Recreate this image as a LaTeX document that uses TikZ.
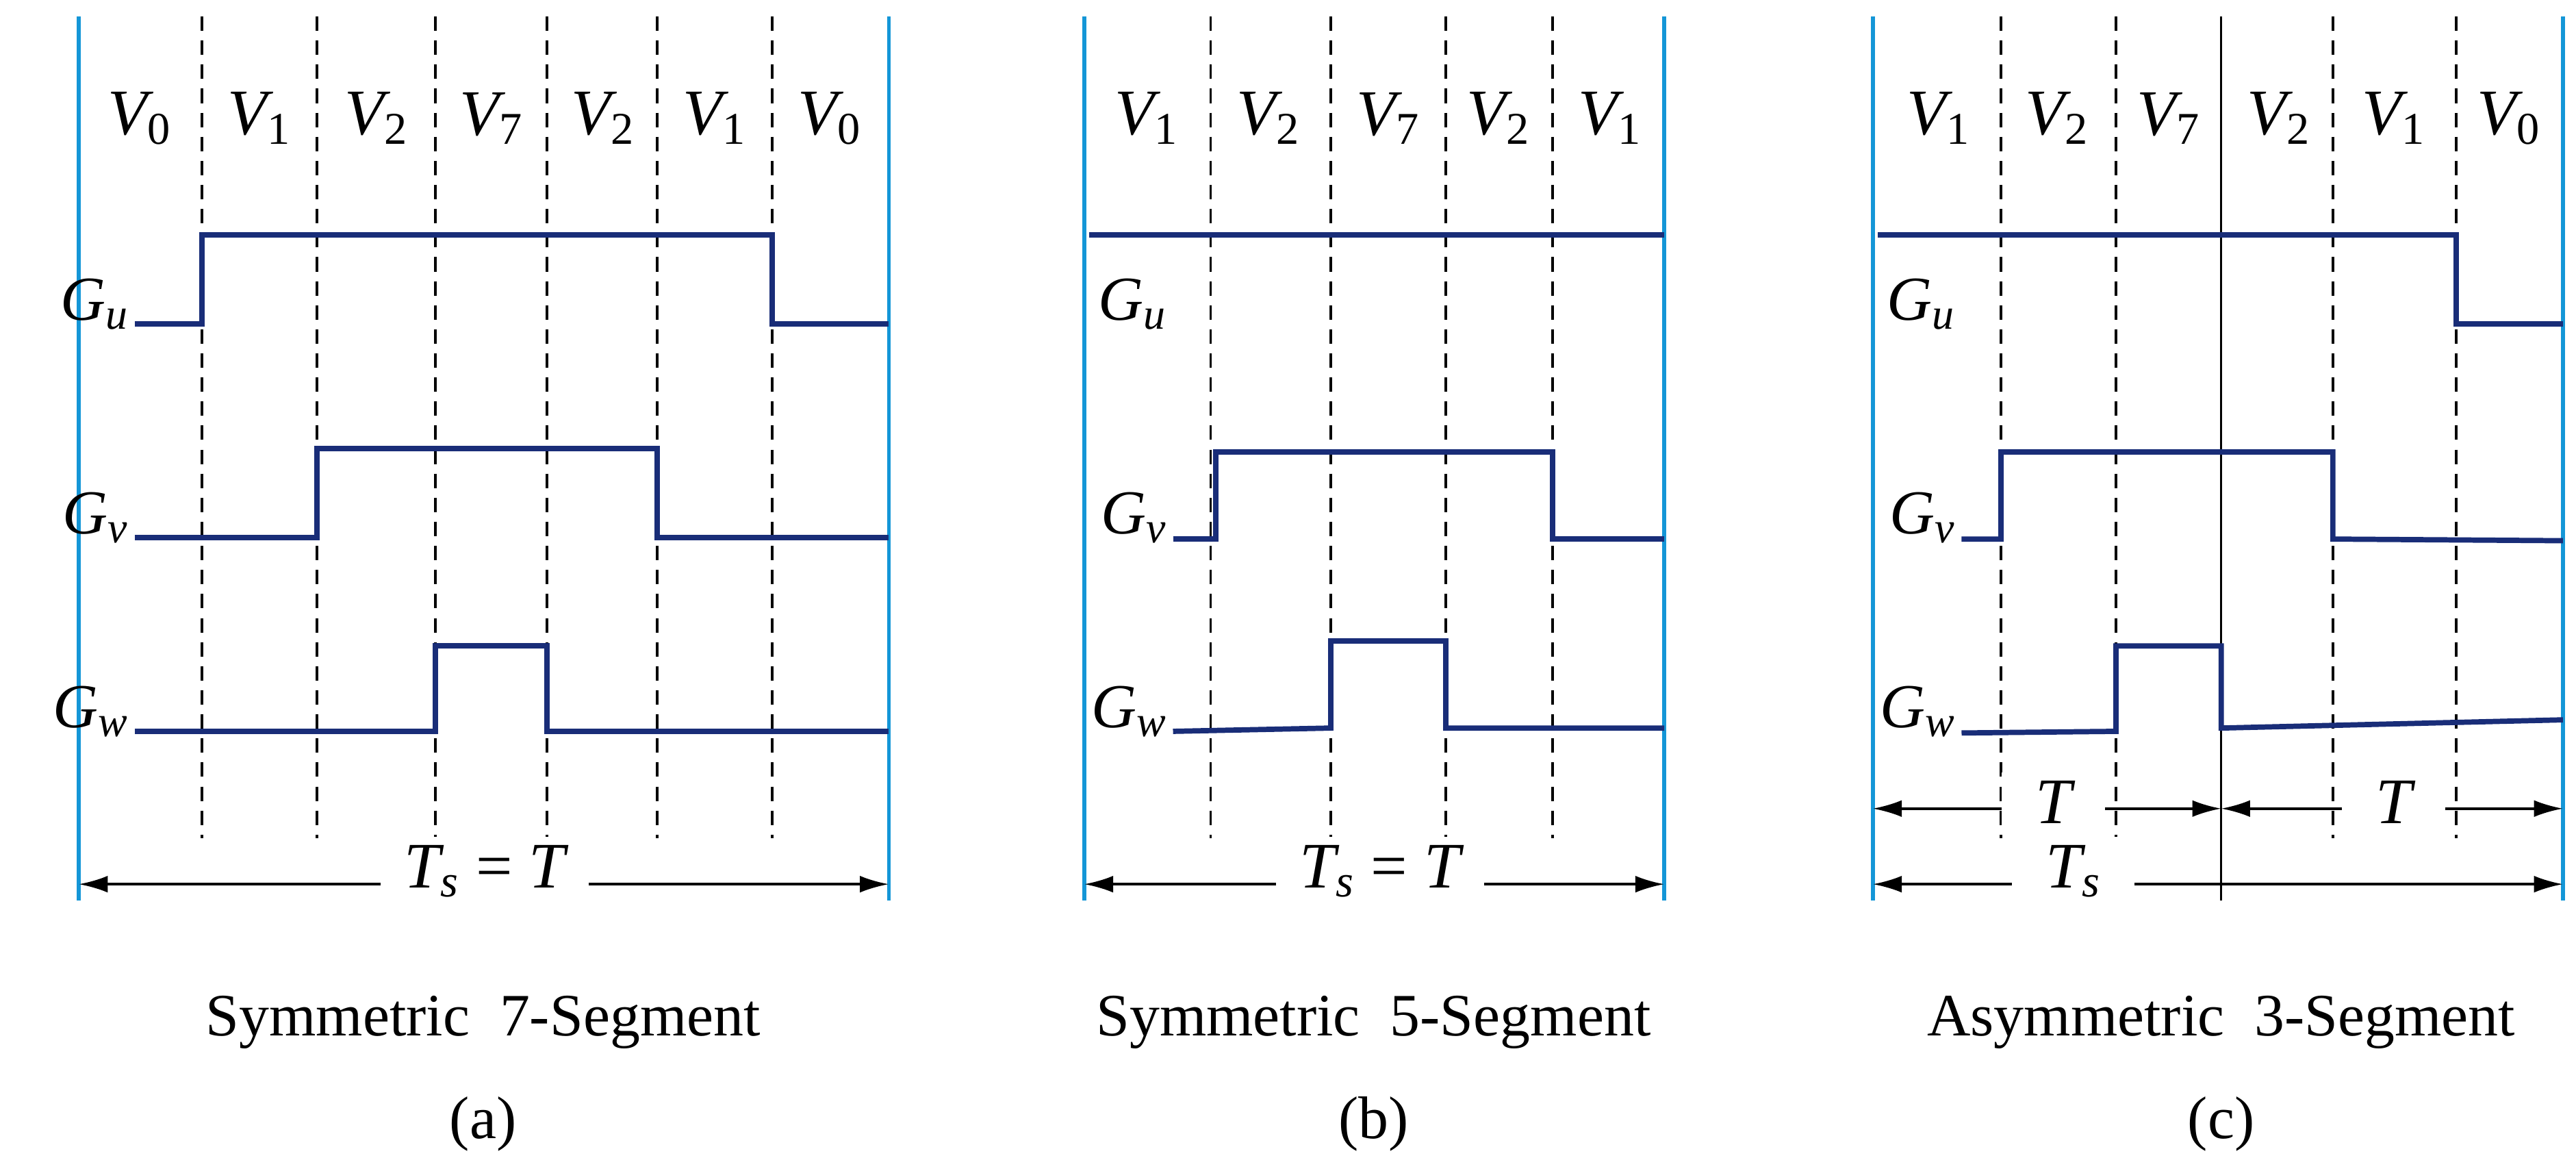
\documentclass[tikz,border=0pt]{standalone}
\usepackage{fontspec}
\setmainfont{Liberation Serif}
\usetikzlibrary{arrows.meta}
\definecolor{bl}{RGB}{20,150,215}
\definecolor{wv}{RGB}{25,45,120}
\begin{document}
\begin{tikzpicture}[x=0.024cm,y=-0.024cm,
  side/.style={bl,line width=1.6pt},
  dsh/.style={black,dashed,line width=1pt,dash pattern=on 6pt off 4pt},
  wave/.style={wv,line width=2.2pt},
  arr/.style={black,line width=1pt,{Latex[length=12pt,width=7pt]}-{Latex[length=12pt,width=7pt]}},
  vl/.style={font=\fontsize{27}{32}\selectfont\itshape},
  gl/.style={font=\fontsize{26}{30}\selectfont\itshape,anchor=east,inner sep=1pt},
  tl/.style={font=\fontsize{25}{30}\selectfont}]
\useasboundingbox (0,0) rectangle (1568,704.6);
% ---------- (a)
\draw[side] (48,10) -- (48,548); \draw[side] (541,10) -- (541,548);
\foreach \x in {123,193,265,333,400,470} \draw[dsh] (\x,10) -- (\x,510);
\foreach \x/\s [count=\i] in {85/0,158/1,229/2,299/7,367/2,435/1,505/0}
  \node[vl] (av\i) at (\x,72) {V\textsubscript{\upshape\s}};
\node[gl] (agu) at (80,185) {G\textsubscript{u}};
\node[gl] (agv) at (80,315) {G\textsubscript{v}};
\node[gl] (agw) at (80,433) {G\textsubscript{w}};
\draw[wave] (82,197) -- (123,197) -- (123,143) -- (470,143) -- (470,197) -- (541,197);
\draw[wave] (82,327) -- (193,327) -- (193,273) -- (400,273) -- (400,327) -- (541,327);
\draw[wave] (82,445) -- (265,445) -- (265,393) -- (333,393) -- (333,445) -- (541,445);
\coordinate (a1) at (48,538); \coordinate (a2) at (541,538);
\draw[arr] (a1) -- (a2);
\node[vl,fill=white,inner xsep=10pt] (ats) at (295,530) {T\textsubscript{s}\upshape\ =\ \itshape T};
\node[tl] (at) at (294,622) {Symmetric\ \ 7-Segment};
\node[tl] (al) at (294,684) {(a)};
% ---------- (b)
\draw[side] (660,10) -- (660,548); \draw[side] (1013,10) -- (1013,548);
\foreach \x in {737,810,880,945} \draw[dsh] (\x,10) -- (\x,510);
\foreach \x/\s [count=\i] in {698/1,772/2,845/7,912/2,980/1}
  \node[vl] (bv\i) at (\x,72) {V\textsubscript{\upshape\s}};
\node[gl] (bgu) at (712,185) {G\textsubscript{u}};
\node[gl] (bgv) at (712,315) {G\textsubscript{v}};
\node[gl] (bgw) at (712,433) {G\textsubscript{w}};
\draw[wave] (663,143) -- (1013,143);
\draw[wave] (714,328) -- (740,328) -- (740,275) -- (945,275) -- (945,328) -- (1013,328);
\draw[wave] (714,445) -- (810,443) -- (810,390) -- (880,390) -- (880,443) -- (1013,443);
\coordinate (b1) at (660,538); \coordinate (b2) at (1013,538);
\draw[arr] (b1) -- (b2);
\node[vl,fill=white,inner xsep=10pt] (bts) at (840,530) {T\textsubscript{s}\upshape\ =\ \itshape T};
\node[tl] (bt) at (836,622) {Symmetric\ \ 5-Segment};
\node[tl] (bl) at (836,684) {(b)};
% ---------- (c)
\draw[side] (1140,10) -- (1140,548); \draw[side] (1560,10) -- (1560,548);
\foreach \x in {1218,1288,1420,1495} \draw[dsh] (\x,10) -- (\x,510);
\draw[black,line width=1pt] (1352,10) -- (1352,548);
\foreach \x/\s [count=\i] in {1180/1,1252/2,1320/7,1387/2,1457/1,1527/0}
  \node[vl] (cv\i) at (\x,72) {V\textsubscript{\upshape\s}};
\node[gl] (cgu) at (1192,185) {G\textsubscript{u}};
\node[gl] (cgv) at (1192,315) {G\textsubscript{v}};
\node[gl] (cgw) at (1192,433) {G\textsubscript{w}};
\draw[wave] (1143,143) -- (1495,143) -- (1495,197) -- (1560,197);
\draw[wave] (1194,328) -- (1218,328) -- (1218,275) -- (1420,275) -- (1420,328) -- (1560,329);
\draw[wave] (1194,446) -- (1288,445) -- (1288,393) -- (1352,393) -- (1352,443) -- (1560,438);
\coordinate (c1) at (1140,492); \coordinate (c2) at (1352,492); \coordinate (c3) at (1560,492);
\draw[arr] (c1) -- (c2); \draw[arr] (c2) -- (c3);
\node[vl,fill=white,inner xsep=14pt] (ct1) at (1250,488) {T};
\node[vl,fill=white,inner xsep=14pt] (ct2) at (1457,488) {T};
\coordinate (c4) at (1140,538); \coordinate (c5) at (1560,538);
\draw[arr] (c4) -- (c5);
\node[vl,fill=white,inner xsep=14pt] (cts) at (1262,530) {T\textsubscript{s}};
\node[tl] (ct) at (1352,622) {Asymmetric\ \ 3-Segment};
\node[tl] (cl) at (1352,684) {(c)};
\end{tikzpicture}
\end{document}
